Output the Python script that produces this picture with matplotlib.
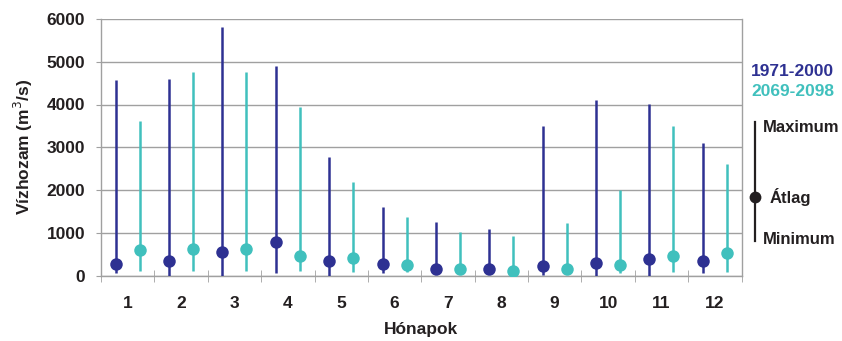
import matplotlib
matplotlib.use("Agg")
import matplotlib.pyplot as plt
import numpy as np

plt.rcParams['font.family'] = ['Liberation Sans', 'DejaVu Sans']

months = ["1", "2", "3", "4", "5", "6", "7", "8", "9", "10", "11", "12"]
series_labels = ["1971-2000", "2069-2098"]

max_1971 = [4580, 4600, 5820, 4890, 2765, 1600, 1245, 1095, 3505, 4105, 4010, 3090]
mean_1971 = [270, 350, 560, 790, 350, 270, 145, 145, 220, 300, 380, 350]
min_1971 = [50, 0, 0, 50, 0, 50, 30, 30, 20, 0, 0, 50]

max_2069 = [3605, 4770, 4770, 3940, 2195, 1375, 1025, 915, 1230, 2000, 3505, 2610]
mean_2069 = [600, 620, 620, 455, 410, 255, 160, 100, 160, 255, 455, 520]
min_2069 = [110, 110, 110, 110, 90, 90, 70, 50, 70, 70, 90, 90]

c_dark = "#2e3192"
c_teal = "#40c0bd"
c_text = "#231f20"

fig = plt.figure(figsize=(8.42, 3.41), dpi=100)
ax = fig.add_axes([101/842, 1 - 275.5/341, (741.5-101)/842, (275.5-19)/341])

x = np.arange(len(months))
off = 0.225
for xs, mx, mn, me, c in [(x - off, max_1971, min_1971, mean_1971, c_dark),
                          (x + off, max_2069, min_2069, mean_2069, c_teal)]:
    ax.vlines(xs, mn, mx, colors=c, lw=1.8, zorder=3)
    ax.plot(xs, me, 'o', color=c, ms=9, zorder=4, mec='none')

ax.set_xlim(-0.5, len(months) - 0.5)
ax.set_ylim(0, 6000)
ax.set_yticks(range(0, 6001, 1000))
ax.yaxis.grid(True, color="#a0a0a0", lw=1)
ax.set_axisbelow(True)
ax.tick_params(axis='y', length=3.5, color='#a0a0a0', pad=8, labelsize=12.5)
for lab in ax.get_yticklabels():
    lab.set_fontweight('bold')
    lab.set_color(c_text)

ax.set_xticks(x)
ax.set_xticklabels(months, fontsize=12.5, fontweight='bold', color=c_text)
ax.set_xticks(np.arange(-0.5, len(months)), minor=True)
ax.tick_params(axis='x', which='major', length=0, pad=15)
ax.tick_params(axis='x', which='minor', length=8, color='#a0a0a0', direction='inout')

ax.spines['top'].set_visible(False)
for s in ['left', 'right', 'bottom']:
    ax.spines[s].set_color('#a0a0a0')
    ax.spines[s].set_linewidth(1)

ax.set_ylabel("Vízhozam (m$^3$/s)", fontsize=12.5, fontweight='bold', color=c_text, labelpad=8)
ax.set_xlabel("Hónapok", fontsize=12.5, fontweight='bold', color=c_text, labelpad=8)

# legend
fig.text(751/842, 1 - 71/341, series_labels[0], color=c_dark, fontsize=12.5, fontweight='bold', va='center', ha='left')
fig.text(751/842, 1 - 92/341, series_labels[1], color=c_teal, fontsize=12.5, fontweight='bold', va='center', ha='left')

lx = 755/842
fig.add_artist(plt.Line2D([lx, lx], [1 - 122/341, 1 - 241/341], color=c_text, lw=1.6))
fig.add_artist(plt.Line2D([lx], [1 - 197/341], marker='o', color=c_text, ms=8.5, mec='none'))
fig.text(763/842, 1 - 127/341, "Maximum", fontsize=12, fontweight='bold', color=c_text, va='center', ha='left')
fig.text(770/842, 1 - 197/341, "Átlag", fontsize=12, fontweight='bold', color=c_text, va='center', ha='left')
fig.text(763/842, 1 - 240/341, "Minimum", fontsize=12, fontweight='bold', color=c_text, va='center', ha='left')

fig.savefig("out.png", dpi=100, facecolor='white')
